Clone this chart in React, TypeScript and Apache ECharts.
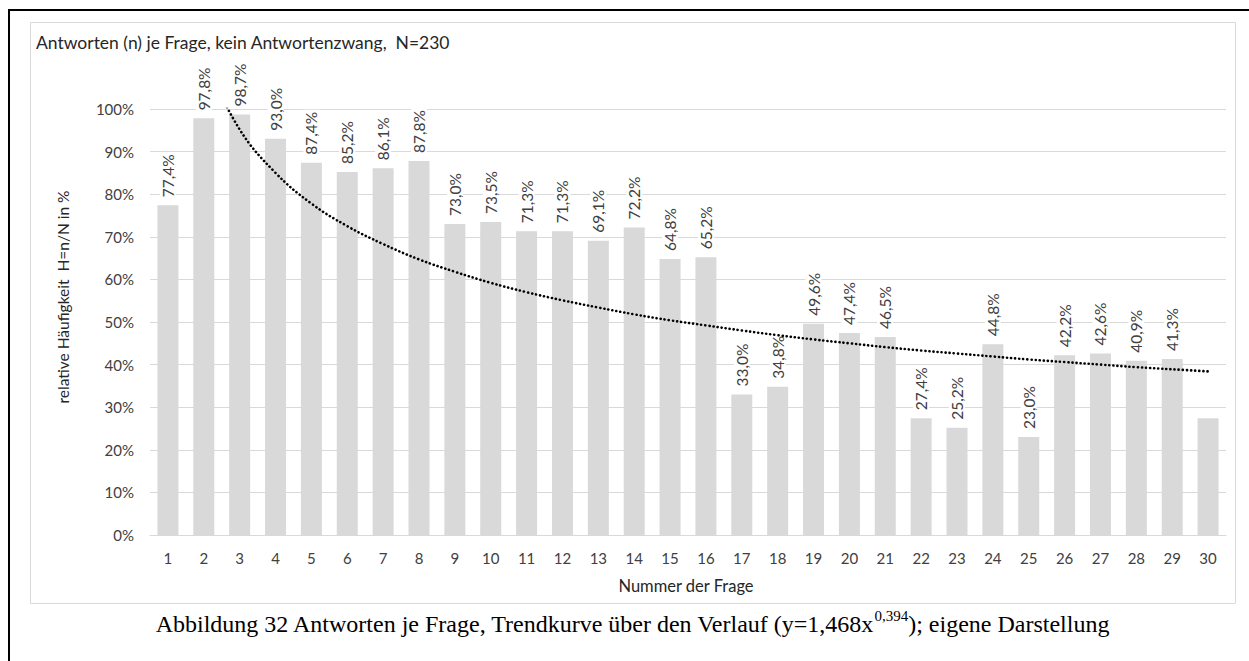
import React, { useEffect, useRef } from "react";
import * as echarts from "echarts";

const categories = ["1","2","3","4","5","6","7","8","9","10","11","12","13","14","15","16","17","18","19","20","21","22","23","24","25","26","27","28","29","30"];
const shares = [77.4, 97.8, 98.7, 93.0, 87.4, 85.2, 86.1, 87.8, 73.0, 73.5, 71.3, 71.3, 69.1, 72.2, 64.8, 65.2, 33.0, 34.8, 49.6, 47.4, 46.5, 27.4, 25.2, 44.8, 23.0, 42.2, 42.6, 40.9, 41.3, 27.4];
const unlabeled = ["30"];
// trend curve (clipped at 100 %)
const trend = [null, 111.7, 95.2, 85.0, 77.8, 72.5, 68.3, 64.7, 61.8, 59.2, 57.0, 55.1, 53.4, 51.8, 50.4, 49.2, 48.0, 46.9, 45.9, 45.0, 44.1, 43.3, 42.6, 41.9, 41.2, 40.6, 40.0, 39.4, 38.9, 38.4];
const yTicks = { min: 0, max: 100, interval: 10 };

const chartTitle = "Antworten (n) je Frage, kein Antwortenzwang,  N=230";
const yTitle = "relative Häufigkeit  H=n/N in %";
const xTitle = "Nummer der Frage";
const captionMain = "Abbildung 32 Antworten je Frage, Trendkurve über den Verlauf (y=1,468x";
const captionSup = "0,394";
const captionEnd = "); eigene Darstellung";

const SANS = "Lato, 'Open Sans', sans-serif";
const SERIF = "'Liberation Serif', 'Times New Roman', serif";

export default function App() {
  const ref = useRef<HTMLDivElement>(null);
  useEffect(() => {
    if (!ref.current) return;
    const chart = echarts.init(ref.current, undefined, { renderer: "svg" });
    const fmt = (v: number) => v.toFixed(1).replace(".", ",") + "%";
    chart.setOption({
      animation: false,
      backgroundColor: "#ffffff",
      grid: { left: 150, right: 23, top: 109, bottom: 126, containLabel: false },
      xAxis: {
        type: "category",
        data: categories,
        axisTick: { show: false },
        axisLine: { lineStyle: { color: "#d9d9d9", width: 1 } },
        axisLabel: { color: "#404040", fontFamily: SANS, fontSize: 15, margin: 15 },
      },
      yAxis: {
        type: "value",
        min: yTicks.min,
        max: yTicks.max,
        interval: yTicks.interval,
        axisLine: { show: false },
        axisTick: { show: false },
        splitLine: { lineStyle: { color: "#d9d9d9", width: 1 } },
        axisLabel: { color: "#404040", fontFamily: SANS, fontSize: 15, margin: 16, formatter: "{value}%" },
      },
      series: [
        {
          type: "bar",
          barWidth: 21,
          itemStyle: { color: "#d9d9d9" },
          data: shares.map((v, i) => ({
            value: v,
            label: { show: unlabeled.indexOf(categories[i]) < 0 },
          })),
          label: {
            show: true,
            position: "top",
            rotate: 90,
            align: "left",
            verticalAlign: "middle",
            distance: 6,
            color: "#404040",
            fontFamily: SANS,
            fontSize: 15.5,
            backgroundColor: "#ffffff",
            padding: [0, 2],
            formatter: (p: any) => fmt(p.value),
          },
          z: 2,
        },
        {
          type: "line",
          data: trend,
          smooth: 0.4,
          symbol: "none",
          clip: true,
          connectNulls: false,
          lineStyle: { color: "#000000", width: 2.6, type: [0.1, 4], cap: "round" },
          z: 3,
        },
      ],
      graphic: [
        {
          type: "rect",
          shape: { x: 9, y: 10, width: 1400, height: 800 },
          style: { fill: "none", stroke: "#000000", lineWidth: 2 },
          silent: true,
        },
        {
          type: "rect",
          shape: { x: 30.5, y: 22.5, width: 1205, height: 581 },
          style: { fill: "none", stroke: "#d9d9d9", lineWidth: 1 },
          silent: true,
        },
        {
          type: "text",
          x: 36,
          y: 42,
          style: { text: chartTitle, fontFamily: SANS, fontSize: 17.5, fill: "#262626", textVerticalAlign: "middle" },
        },
        {
          type: "text",
          x: 63,
          y: 297,
          rotation: Math.PI / 2,
          style: { text: yTitle, fontFamily: SANS, fontSize: 15.5, fill: "#262626", textAlign: "center", textVerticalAlign: "middle" },
        },
        {
          type: "text",
          x: 686,
          y: 586,
          style: { text: xTitle, fontFamily: SANS, fontSize: 16.5, fill: "#262626", textAlign: "center", textVerticalAlign: "middle" },
        },
        {
          type: "text",
          x: 632,
          y: 622,
          style: {
            text: "{a|" + captionMain + "}{s|" + captionSup + "}{a|" + captionEnd + "}",
            textAlign: "center",
            textVerticalAlign: "middle",
            rich: {
              a: { fontFamily: SERIF, fontSize: 24, fill: "#000000", lineHeight: 28, verticalAlign: "bottom" },
              s: { fontFamily: SERIF, fontSize: 15, fill: "#000000", lineHeight: 28, verticalAlign: "top" },
            },
          },
        },
      ],
    });
    return () => chart.dispose();
  }, []);
  return (
    <div style={{ position: "fixed", left: 0, top: 0, width: 1249, height: 661, overflow: "hidden", background: "#fff" }}>
      <div ref={ref} style={{ width: 1249, height: 661 }} />
    </div>
  );
}
